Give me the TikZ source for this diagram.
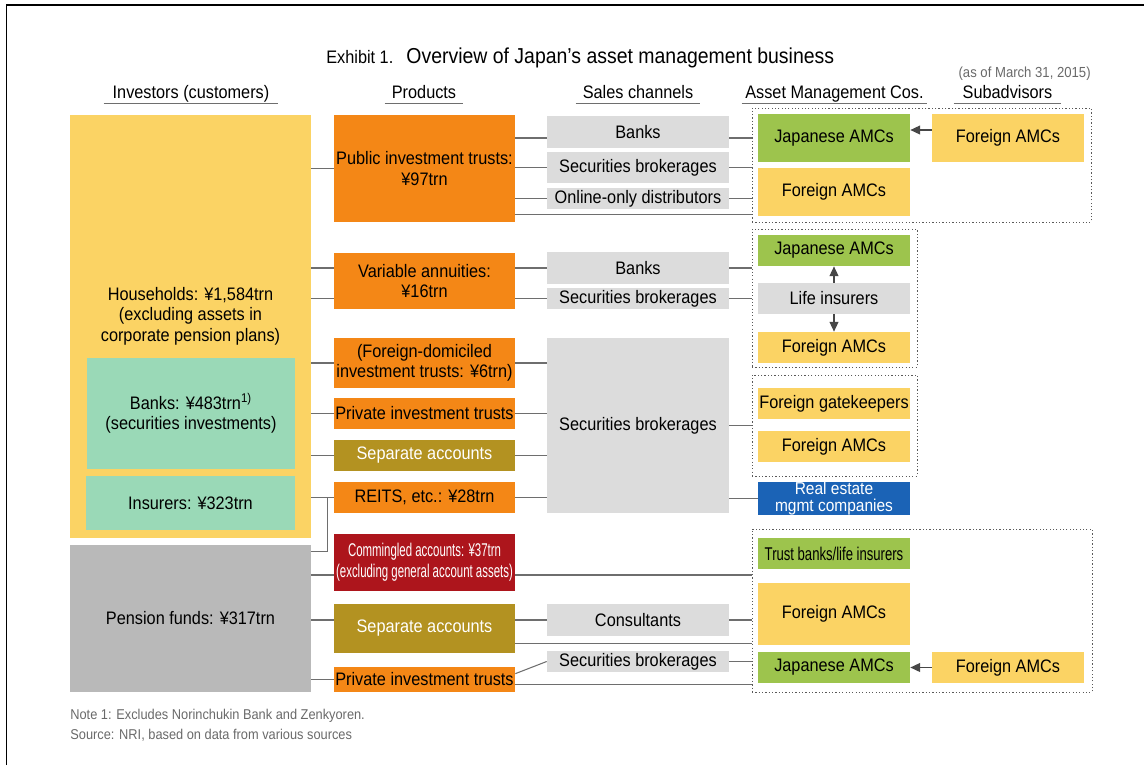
\documentclass[tikz,border=0pt]{standalone}
\usepackage{fontspec}
\setmainfont[FakeStretch=0.9]{Liberation Sans}
\newfontfamily\condfont[FakeStretch=0.62]{Liberation Sans}
\newfontfamily\narrowfont[FakeStretch=0.71]{Liberation Sans}
\usetikzlibrary{arrows.meta, positioning, calc}
\definecolor{hhyel}{RGB}{251,211,100}
\definecolor{mintbox}{RGB}{154,217,183}
\definecolor{penbox}{RGB}{185,185,185}
\definecolor{prodbox}{RGB}{244,135,22}
\definecolor{olivebox}{RGB}{179,146,33}
\definecolor{redbox}{RGB}{173,21,28}
\definecolor{chanbox}{RGB}{220,220,220}
\definecolor{amcbox}{RGB}{157,196,77}
\definecolor{bluebox}{RGB}{27,99,182}
\definecolor{linegrey}{RGB}{110,110,110}
\definecolor{notegrey}{RGB}{105,105,105}

\begin{document}
\begin{tikzpicture}[
        x=0.02cm, y=-0.02cm,
        font=\fontsize{10.3}{11.6}\selectfont,
        >={Triangle[length=5.5pt, width=5pt]},
        bx/.style={inner sep=0pt, align=center, text=black},
        invcol/.style={bx, minimum width=4.82cm},
        prodcol/.style={bx, fill=prodbox, minimum width=3.62cm},
        chancol/.style={bx, fill=chanbox, minimum width=3.64cm},
        amccol/.style={bx, minimum width=3.04cm},
        jp/.style={amccol, fill=amcbox},
        fo/.style={amccol, fill=hhyel},
        grp/.style={draw=black!65, line width=0.5pt, dash pattern=on 0.7pt off 1.2pt, inner sep=0pt},
        conn/.style={draw=linegrey, line width=0.6pt},
        arr/.style={draw=black!72, line width=0.7pt, ->},
        hd/.style={anchor=base, text depth=0.25em, inner ysep=0.6pt, inner xsep=0pt},
        note/.style={anchor=base west, inner sep=0pt, text=notegrey, font=\fontsize{8.1}{9.5}\selectfont}
    ]
        \useasboundingbox (0,0) rectangle (1144,765);
        \draw[line width=0.8pt] (6.5,765) -- (6.5,5) -- (1144,5);

        % --- Title and column heads ---
        \node[anchor=base west, inner sep=0pt] (ttl) at (326,63) {{\fontsize{10.3}{12}\selectfont Exhibit 1.}\hspace{4pt} {\fontsize{12.3}{14}\selectfont Overview of Japan’s asset management business}};
        \node[note, anchor=base east, font=\fontsize{8.3}{9.5}\selectfont] (asof) at (1091,77) {(as of March 31, 2015)};
        \node[hd, minimum width=3.48cm] (hdinv) at (191,98) {Investors (customers)};
        \node[hd, minimum width=1.56cm] (hdprod) at (424,98) {Products};
        \node[hd, minimum width=2.48cm] (hdchan) at (638,98) {Sales channels};
        \node[hd, minimum width=3.70cm] (hdamc) at (834.5,98) {Asset Management Cos.};
        \node[hd, minimum width=2.14cm] (hdsub) at (1007.5,98) {Subadvisors};
        \foreach \h in {hdinv, hdprod, hdchan, hdamc, hdsub}
            \draw[conn] (\h.south west) -- (\h.south east);

        % --- Investors ---
        \node[invcol, fill=hhyel, minimum height=8.46cm] (hh) at (190.5,326.5) {};
        \node[bx] (hhtxt) at (190.5,316) {Households: ¥1,584trn\\(excluding assets in\\corporate pension plans)};
        \node[bx, fill=mintbox, minimum width=4.16cm, minimum height=2.22cm] (bank) at (191,413.5) {Banks: ¥483trn\textsuperscript{1)}\\(securities investments)};
        \node[bx, fill=mintbox, minimum width=4.18cm, minimum height=1.08cm] (ins) at (190.5,503) {Insurers: ¥323trn};
        \node[invcol, fill=penbox, minimum height=2.94cm] (pen) at (190.5,618.5) {Pension funds: ¥317trn};

        % --- Products ---
        \node[prodcol, minimum height=2.14cm] (pit) at (424.5,168.5) {Public investment trusts:\\¥97trn};
        \node[prodcol, minimum height=1.12cm] (va) at (424.5,281) {Variable annuities:\\¥16trn};
        \node[prodcol, minimum height=1.00cm] (fdit) at (424.5,363) {(Foreign-domiciled\\investment trusts: ¥6trn)};
        \node[prodcol, minimum height=0.62cm] (prit) at (424.5,413.5) {Private investment trusts};
        \node[prodcol, fill=olivebox, text=white, minimum height=0.62cm] (sep) at (424.5,455.5) {Separate accounts};
        \node[prodcol, minimum height=0.62cm] (reit) at (424.5,497.5) {REITS, etc.: ¥28trn};
        \node[prodcol, fill=redbox, text=white, minimum height=1.14cm, font=\condfont\fontsize{10.5}{11.8}\selectfont] (com) at (424.5,562.5) {Commingled accounts: ¥37trn\\(excluding general account assets)};
        \node[prodcol, fill=olivebox, text=white, minimum height=0.98cm] (sep2) at (424.5,628.5) {Separate accounts};
        \node[prodcol, minimum height=0.50cm] (prit2) at (424.5,679.5) {Private investment trusts};

        % --- Sales channels ---
        \node[chancol, minimum height=0.64cm] (sbank) at (638,132) {Banks};
        \node[chancol, minimum height=0.62cm] (ssec) at (638,167.5) {Securities brokerages};
        \node[chancol, minimum height=0.42cm] (sonl) at (638,198.5) {Online-only distributors};
        \node[chancol, minimum height=0.64cm] (vbank) at (638,268) {Banks};
        \node[chancol, minimum height=0.42cm] (vsec) at (638,298.5) {Securities brokerages};
        \node[chancol, minimum height=3.50cm] (bsec) at (638,425.5) {Securities brokerages};
        \node[chancol, minimum height=0.64cm] (cons) at (638,620) {Consultants};
        \node[chancol, minimum height=0.42cm] (psec) at (638,661.5) {Securities brokerages};

        % --- Asset management cos. and subadvisors ---
        \node[grp, minimum width=6.78cm, minimum height=2.28cm] (g1) at (921.5,165) {};
        \node[grp, minimum width=3.30cm, minimum height=2.76cm] (g2) at (834.5,298) {};
        \node[grp, minimum width=3.30cm, minimum height=2.02cm] (g3) at (834.5,425.5) {};
        \node[grp, minimum width=6.80cm, minimum height=3.26cm] (g4) at (922,610.5) {};

        \node[jp, minimum height=0.96cm] (jp1) at (834,138) {Japanese AMCs};
        \node[fo, minimum height=0.96cm] (fo1) at (834,192) {Foreign AMCs};
        \node[fo, minimum height=0.96cm] (sub1) at (1008,138) {Foreign AMCs};
        \node[jp, minimum height=0.62cm] (jp2) at (834,250.5) {Japanese AMCs};
        \node[amccol, fill=chanbox, minimum height=0.62cm] (life) at (834,298.5) {Life insurers};
        \node[fo, minimum height=0.62cm] (fo2) at (834,347.5) {Foreign AMCs};
        \node[fo, minimum height=0.62cm] (gate) at (834,403.5) {Foreign gatekeepers};
        \node[fo, minimum height=0.62cm] (fo3) at (834,446.5) {Foreign AMCs};
        \node[amccol, fill=bluebox, text=white, minimum height=0.62cm, font=\fontsize{9.8}{9.6}\selectfont] (reco) at (834,498.5) {Real estate\\mgmt companies};
        \node[jp, minimum height=0.62cm, font=\narrowfont\fontsize{10.5}{11.8}\selectfont] (tblf) at (834,553.5) {Trust banks/life insurers};
        \node[fo, minimum height=1.24cm] (fo4) at (834,614) {Foreign AMCs};
        \node[jp, minimum height=0.62cm] (jp4) at (834,667.5) {Japanese AMCs};
        \node[fo, minimum height=0.62cm] (sub4) at (1008,667.5) {Foreign AMCs};

        % line heights that sit off the box centres
        \coordinate (arw1) at (0,130);
        \coordinate (comln) at (0,575);
        \coordinate (pitln) at ($(pit.south east)+(0,-8)$);
        \coordinate (sepln) at ($(sep2.south east)+(0,-10)$);
        \coordinate (priln) at ($(prit2.south east)+(0,-8)$);
        \coordinate (pridg) at ($(prit2.north east)+(0,7)$);

        % --- Investors -> products ---
        \draw[conn] (hh.east |- pit) -- (pit.west);
        \draw[conn] (hh.east |- vbank) -- (va.west |- vbank);
        \draw[conn] (hh.east |- vsec) -- (va.west |- vsec);
        \foreach \p in {fdit, prit, sep, reit}
            \draw[conn] (hh.east |- \p) -- (\p.west);
        \draw[conn] ($(pen.north east)+(0,7)$) -| ($(reit.west)+(-6,0)$);
        \draw[conn] (pen.east |- comln) -- (com.west |- comln);
        \draw[conn] (pen.east |- cons) -- (sep2.west |- cons);
        \draw[conn] (pen.east |- prit2) -- (prit2.west);

        % --- Products -> sales channels ---
        \draw[conn] (pit.east |- jp1) -- (sbank.west |- jp1);
        \draw[conn] (pit.east |- ssec) -- (ssec.west);
        \draw[conn] (pit.east |- sonl) -- (sonl.west);
        \draw[conn] (pitln) -- (pitln -| g1.west);
        \draw[conn] (va.east |- vbank) -- (vbank.west);
        \draw[conn] (va.east |- vsec) -- (vsec.west);
        \foreach \p in {fdit, prit, sep, reit}
            \draw[conn] (\p.east) -- (bsec.west |- \p);
        \draw[conn] (com.east |- comln) -- (g4.west |- comln);
        \draw[conn] (sep2.east |- cons) -- (cons.west);
        \draw[conn] (sepln) -- (sepln -| g4.west);
        \draw[conn] (pridg) -- (psec.west);
        \draw[conn] (priln) -- (priln -| g4.west);

        % --- Sales channels -> asset management cos. ---
        \draw[conn] (sbank.east |- jp1) -- (g1.west |- jp1);
        \draw[conn] (ssec.east) -- (ssec.east -| g1.west);
        \draw[conn] (sonl.east) -- (sonl.east -| g1.west);
        \draw[conn] (vbank.east) -- (vbank.east -| g2.west);
        \draw[conn] (vsec.east) -- (vsec.east -| g2.west);
        \draw[conn] (bsec.east) -- (bsec.east -| g3.west);
        \draw[conn] (bsec.east |- reco) -- (reco.west);
        \draw[conn] (cons.east) -- (cons.east -| g4.west);
        \draw[conn] (psec.east) -- (psec.east -| g4.west);

        % --- Subadvisors and life insurers ---
        \draw[arr] (sub1.west |- arw1) -- (jp1.east |- arw1);
        \draw[arr] (life.north) -- (jp2.south);
        \draw[arr] (life.south) -- (fo2.north);
        \draw[arr] (sub4.west) -- (jp4.east);

        % --- Notes ---
        \node[note] (note1) at (70,719) {Note 1: Excludes Norinchukin Bank and Zenkyoren.};
        \node[note] (src) at (70,739) {Source: NRI, based on data from various sources};
    \end{tikzpicture}
\end{document}
